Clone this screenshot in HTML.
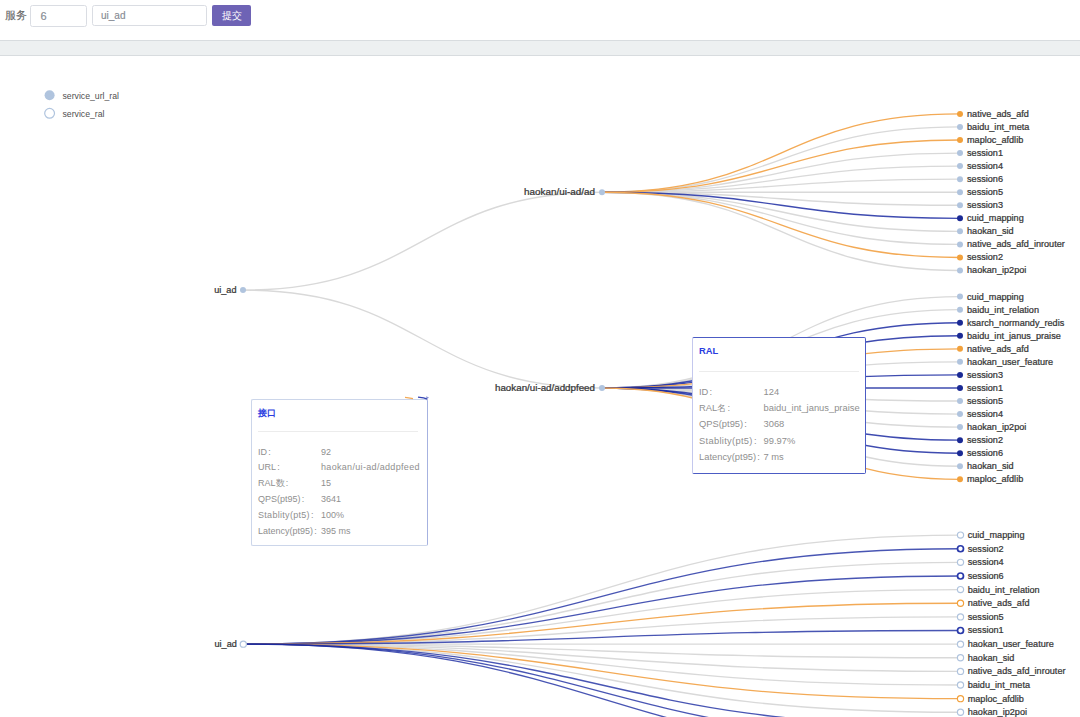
<!DOCTYPE html>
<html><head><meta charset="utf-8"><style>
*{margin:0;padding:0;box-sizing:border-box}
html,body{width:1080px;height:717px;overflow:hidden;background:#fff;font-family:"Liberation Sans",sans-serif}
.abs{position:absolute}
.lab{left:4.5px;top:9px;font-size:10.5px;color:#6a6a6a;line-height:12px;-webkit-text-stroke:0.15px #6a6a6a}
.inp{border:1px solid #dadde3;border-radius:2.5px;background:#fff;font-size:10px;color:#868b93;-webkit-text-stroke:0.15px #868b93;line-height:20px;height:22px}
.btn{left:212px;top:5px;width:39px;height:21px;background:#6e63b5;border-radius:2px;color:#fff;font-size:10px;line-height:21px;text-align:center}
.bar{left:0;top:40px;width:1080px;height:16px;background:#edf0f1;border-top:1px solid #d8dcdf;border-bottom:1px solid #d8dcdf}
svg.chart{position:absolute;left:0;top:0}
.lbl text{font-size:9px;fill:#383838;stroke:#383838;stroke-width:0.25px;font-family:"Liberation Sans",sans-serif}
.leg text{font-size:8.7px;fill:#505050;font-family:"Liberation Sans",sans-serif}
.tip{background:#fff;font-size:9px;color:#8f8f8f;border-radius:2px}
.tip .t{position:absolute;color:#2b3de0;font-weight:bold;font-size:9px}
.tip .sep{position:absolute;height:1px;background:#ececec}
.tip .c{margin-left:0.3px}
.tip .r{position:absolute;white-space:nowrap;line-height:10px;margin-top:0.1px}
.tipA .r{margin-top:0.9px}
.tipB,.tipB .t{font-size:9.35px}
.tipB .c,.tipA .c{margin-left:1.2px}
</style></head><body>
<div class="abs lab">服务</div>
<div class="abs inp" style="left:30px;top:5px;width:57px;padding-left:9.5px;font-size:11px">6</div>
<div class="abs inp" style="left:91.5px;top:5px;width:115.5px;height:21px;line-height:19.5px;padding-left:8.5px">ui_ad</div>
<div class="abs btn">提交</div>
<div class="abs bar"></div>
<svg class="chart" width="1080" height="717" viewBox="0 0 1080 717">
<g><path d="M243,290.08C422.5,290.08 422.5,192.2 602,192.2" stroke="#d9d9d9" stroke-width="1.35" fill="none"/><path d="M243,290.08C422.5,290.08 422.5,387.95 602,387.95" stroke="#d9d9d9" stroke-width="1.35" fill="none"/><path d="M602,192.2C781,192.2 781,126.95 960,126.95" stroke="#d9d9d9" stroke-width="1.35" fill="none"/><path d="M602,192.2C781,192.2 781,153.05 960,153.05" stroke="#d9d9d9" stroke-width="1.35" fill="none"/><path d="M602,192.2C781,192.2 781,166.1 960,166.1" stroke="#d9d9d9" stroke-width="1.35" fill="none"/><path d="M602,192.2C781,192.2 781,179.15 960,179.15" stroke="#d9d9d9" stroke-width="1.35" fill="none"/><path d="M602,192.2C781,192.2 781,192.2 960,192.2" stroke="#d9d9d9" stroke-width="1.35" fill="none"/><path d="M602,192.2C781,192.2 781,205.25 960,205.25" stroke="#d9d9d9" stroke-width="1.35" fill="none"/><path d="M602,192.2C781,192.2 781,231.35 960,231.35" stroke="#d9d9d9" stroke-width="1.35" fill="none"/><path d="M602,192.2C781,192.2 781,244.4 960,244.4" stroke="#d9d9d9" stroke-width="1.35" fill="none"/><path d="M602,192.2C781,192.2 781,270.5 960,270.5" stroke="#d9d9d9" stroke-width="1.35" fill="none"/><path d="M602,387.95C781,387.95 781,296.6 960,296.6" stroke="#d9d9d9" stroke-width="1.35" fill="none"/><path d="M602,387.95C781,387.95 781,309.65 960,309.65" stroke="#d9d9d9" stroke-width="1.35" fill="none"/><path d="M602,387.95C781,387.95 781,361.85 960,361.85" stroke="#d9d9d9" stroke-width="1.35" fill="none"/><path d="M602,387.95C781,387.95 781,401 960,401" stroke="#d9d9d9" stroke-width="1.35" fill="none"/><path d="M602,387.95C781,387.95 781,414.05 960,414.05" stroke="#d9d9d9" stroke-width="1.35" fill="none"/><path d="M602,387.95C781,387.95 781,427.1 960,427.1" stroke="#d9d9d9" stroke-width="1.35" fill="none"/><path d="M602,387.95C781,387.95 781,466.25 960,466.25" stroke="#d9d9d9" stroke-width="1.35" fill="none"/></g><g><path d="M602,192.2C781,192.2 781,113.9 960,113.9" stroke="#f3aa56" stroke-width="1.35" fill="none"/><path d="M602,192.2C781,192.2 781,140 960,140" stroke="#f3aa56" stroke-width="1.35" fill="none"/><path d="M602,192.2C781,192.2 781,218.3 960,218.3" stroke="#0e1e9c" stroke-width="1.35" fill="none" stroke-opacity="0.8"/><path d="M602,192.2C781,192.2 781,257.45 960,257.45" stroke="#f3aa56" stroke-width="1.35" fill="none"/><path d="M602,387.95C781,387.95 781,322.7 960,322.7" stroke="#0e1e9c" stroke-width="1.35" fill="none" stroke-opacity="0.8"/><path d="M602,387.95C781,387.95 781,335.75 960,335.75" stroke="#0e1e9c" stroke-width="1.35" fill="none" stroke-opacity="0.8"/><path d="M602,387.95C781,387.95 781,348.8 960,348.8" stroke="#f3aa56" stroke-width="1.35" fill="none"/><path d="M602,387.95C781,387.95 781,374.9 960,374.9" stroke="#0e1e9c" stroke-width="1.35" fill="none" stroke-opacity="0.8"/><path d="M602,387.95C781,387.95 781,387.95 960,387.95" stroke="#0e1e9c" stroke-width="1.35" fill="none" stroke-opacity="0.8"/><path d="M602,387.95C781,387.95 781,440.15 960,440.15" stroke="#0e1e9c" stroke-width="1.35" fill="none" stroke-opacity="0.8"/><path d="M602,387.95C781,387.95 781,453.2 960,453.2" stroke="#0e1e9c" stroke-width="1.35" fill="none" stroke-opacity="0.8"/><path d="M602,387.95C781,387.95 781,479.3 960,479.3" stroke="#f3aa56" stroke-width="1.35" fill="none"/></g>
<g><path d="M243.3,644.14C601.9,644.14 601.9,535.1 960.5,535.1" stroke="#d9d9d9" stroke-width="1.35" fill="none"/><path d="M243.3,644.14C601.9,644.14 601.9,562.36 960.5,562.36" stroke="#d9d9d9" stroke-width="1.35" fill="none"/><path d="M243.3,644.14C601.9,644.14 601.9,589.62 960.5,589.62" stroke="#d9d9d9" stroke-width="1.35" fill="none"/><path d="M243.3,644.14C601.9,644.14 601.9,616.88 960.5,616.88" stroke="#d9d9d9" stroke-width="1.35" fill="none"/><path d="M243.3,644.14C601.9,644.14 601.9,644.14 960.5,644.14" stroke="#d9d9d9" stroke-width="1.35" fill="none"/><path d="M243.3,644.14C601.9,644.14 601.9,657.77 960.5,657.77" stroke="#d9d9d9" stroke-width="1.35" fill="none"/><path d="M243.3,644.14C601.9,644.14 601.9,671.4 960.5,671.4" stroke="#d9d9d9" stroke-width="1.35" fill="none"/><path d="M243.3,644.14C601.9,644.14 601.9,685.03 960.5,685.03" stroke="#d9d9d9" stroke-width="1.35" fill="none"/><path d="M243.3,644.14C601.9,644.14 601.9,712.29 960.5,712.29" stroke="#d9d9d9" stroke-width="1.35" fill="none"/></g><g><path d="M243.3,644.14C601.9,644.14 601.9,548.73 960.5,548.73" stroke="#1a2aa0" stroke-width="1.35" fill="none" stroke-opacity="0.8"/><path d="M243.3,644.14C601.9,644.14 601.9,575.99 960.5,575.99" stroke="#1a2aa0" stroke-width="1.35" fill="none" stroke-opacity="0.8"/><path d="M243.3,644.14C601.9,644.14 601.9,603.25 960.5,603.25" stroke="#f3aa56" stroke-width="1.35" fill="none"/><path d="M243.3,644.14C601.9,644.14 601.9,630.51 960.5,630.51" stroke="#1a2aa0" stroke-width="1.35" fill="none" stroke-opacity="0.8"/><path d="M243.3,644.14C601.9,644.14 601.9,698.66 960.5,698.66" stroke="#f3aa56" stroke-width="1.35" fill="none"/><path d="M243.3,644.14C601.9,644.14 601.9,725.92 960.5,725.92" stroke="#1a2aa0" stroke-width="1.35" fill="none" stroke-opacity="0.8"/><path d="M243.3,644.14C601.9,644.14 601.9,739.55 960.5,739.55" stroke="#1a2aa0" stroke-width="1.35" fill="none" stroke-opacity="0.8"/><path d="M243.3,644.14C601.9,644.14 601.9,753.18 960.5,753.18" stroke="#1a2aa0" stroke-width="1.35" fill="none" stroke-opacity="0.8"/></g>
<g><circle cx="960" cy="113.90" r="3" fill="#f2a13c"/><circle cx="960" cy="126.95" r="3" fill="#b0c4de"/><circle cx="960" cy="140.00" r="3" fill="#f2a13c"/><circle cx="960" cy="153.05" r="3" fill="#b0c4de"/><circle cx="960" cy="166.10" r="3" fill="#b0c4de"/><circle cx="960" cy="179.15" r="3" fill="#b0c4de"/><circle cx="960" cy="192.20" r="3" fill="#b0c4de"/><circle cx="960" cy="205.25" r="3" fill="#b0c4de"/><circle cx="960" cy="218.30" r="3" fill="#1b2a94"/><circle cx="960" cy="231.35" r="3" fill="#b0c4de"/><circle cx="960" cy="244.40" r="3" fill="#b0c4de"/><circle cx="960" cy="257.45" r="3" fill="#f2a13c"/><circle cx="960" cy="270.50" r="3" fill="#b0c4de"/><circle cx="960" cy="296.60" r="3" fill="#b0c4de"/><circle cx="960" cy="309.65" r="3" fill="#b0c4de"/><circle cx="960" cy="322.70" r="3" fill="#1b2a94"/><circle cx="960" cy="335.75" r="3" fill="#1b2a94"/><circle cx="960" cy="348.80" r="3" fill="#f2a13c"/><circle cx="960" cy="361.85" r="3" fill="#b0c4de"/><circle cx="960" cy="374.90" r="3" fill="#1b2a94"/><circle cx="960" cy="387.95" r="3" fill="#1b2a94"/><circle cx="960" cy="401.00" r="3" fill="#b0c4de"/><circle cx="960" cy="414.05" r="3" fill="#b0c4de"/><circle cx="960" cy="427.10" r="3" fill="#b0c4de"/><circle cx="960" cy="440.15" r="3" fill="#1b2a94"/><circle cx="960" cy="453.20" r="3" fill="#1b2a94"/><circle cx="960" cy="466.25" r="3" fill="#b0c4de"/><circle cx="960" cy="479.30" r="3" fill="#f2a13c"/><circle cx="243" cy="290.08" r="3" fill="#b0c4de"/><circle cx="602" cy="192.20" r="3" fill="#b0c4de"/><circle cx="602" cy="387.95" r="3" fill="#b0c4de"/></g><g><circle cx="960.5" cy="535.10" r="3.1" fill="#fff" stroke="#b0c4de" stroke-width="1.2"/><circle cx="960.5" cy="548.73" r="3.0" fill="#fff" stroke="#2a3aaa" stroke-width="1.7"/><circle cx="960.5" cy="562.36" r="3.1" fill="#fff" stroke="#b0c4de" stroke-width="1.2"/><circle cx="960.5" cy="575.99" r="3.0" fill="#fff" stroke="#2a3aaa" stroke-width="1.7"/><circle cx="960.5" cy="589.62" r="3.1" fill="#fff" stroke="#b0c4de" stroke-width="1.2"/><circle cx="960.5" cy="603.25" r="3.1" fill="#fff" stroke="#f2a13c" stroke-width="1.2"/><circle cx="960.5" cy="616.88" r="3.1" fill="#fff" stroke="#b0c4de" stroke-width="1.2"/><circle cx="960.5" cy="630.51" r="3.0" fill="#fff" stroke="#2a3aaa" stroke-width="1.7"/><circle cx="960.5" cy="644.14" r="3.1" fill="#fff" stroke="#b0c4de" stroke-width="1.2"/><circle cx="960.5" cy="657.77" r="3.1" fill="#fff" stroke="#b0c4de" stroke-width="1.2"/><circle cx="960.5" cy="671.40" r="3.1" fill="#fff" stroke="#b0c4de" stroke-width="1.2"/><circle cx="960.5" cy="685.03" r="3.1" fill="#fff" stroke="#b0c4de" stroke-width="1.2"/><circle cx="960.5" cy="698.66" r="3.1" fill="#fff" stroke="#f2a13c" stroke-width="1.2"/><circle cx="960.5" cy="712.29" r="3.1" fill="#fff" stroke="#b0c4de" stroke-width="1.2"/><circle cx="960.5" cy="725.92" r="3.0" fill="#fff" stroke="#2a3aaa" stroke-width="1.7"/><circle cx="243.3" cy="644.14" r="3.1" fill="#fff" stroke="#b0c4de" stroke-width="1.2"/></g>
<g class="lbl"><text transform="translate(967,116.80) scale(1.015,0.95)">native_ads_afd</text><text transform="translate(967,129.85) scale(1.015,0.95)">baidu_int_meta</text><text transform="translate(967,142.90) scale(1.015,0.95)">maploc_afdlib</text><text transform="translate(967,155.95) scale(1.015,0.95)">session1</text><text transform="translate(967,169.00) scale(1.015,0.95)">session4</text><text transform="translate(967,182.05) scale(1.015,0.95)">session6</text><text transform="translate(967,195.10) scale(1.015,0.95)">session5</text><text transform="translate(967,208.15) scale(1.015,0.95)">session3</text><text transform="translate(967,221.20) scale(1.015,0.95)">cuid_mapping</text><text transform="translate(967,234.25) scale(1.015,0.95)">haokan_sid</text><text transform="translate(967,247.30) scale(1.015,0.95)">native_ads_afd_inrouter</text><text transform="translate(967,260.35) scale(1.015,0.95)">session2</text><text transform="translate(967,273.40) scale(1.015,0.95)">haokan_ip2poi</text><text transform="translate(967,299.50) scale(1.015,0.95)">cuid_mapping</text><text transform="translate(967,312.55) scale(1.015,0.95)">baidu_int_relation</text><text transform="translate(967,325.60) scale(1.015,0.95)">ksarch_normandy_redis</text><text transform="translate(967,338.65) scale(1.015,0.95)">baidu_int_janus_praise</text><text transform="translate(967,351.70) scale(1.015,0.95)">native_ads_afd</text><text transform="translate(967,364.75) scale(1.015,0.95)">haokan_user_feature</text><text transform="translate(967,377.80) scale(1.015,0.95)">session3</text><text transform="translate(967,390.85) scale(1.015,0.95)">session1</text><text transform="translate(967,403.90) scale(1.015,0.95)">session5</text><text transform="translate(967,416.95) scale(1.015,0.95)">session4</text><text transform="translate(967,430.00) scale(1.015,0.95)">haokan_ip2poi</text><text transform="translate(967,443.05) scale(1.015,0.95)">session2</text><text transform="translate(967,456.10) scale(1.015,0.95)">session6</text><text transform="translate(967,469.15) scale(1.015,0.95)">haokan_sid</text><text transform="translate(967,482.20) scale(1.015,0.95)">maploc_afdlib</text><text transform="translate(236.5,292.98) scale(1.015,0.95)" text-anchor="end">ui_ad</text><text transform="translate(595,195.10) scale(1,0.95)" text-anchor="end" textLength="71" lengthAdjust="spacingAndGlyphs">haokan/ui-ad/ad</text><text transform="translate(595,390.85) scale(1,0.95)" text-anchor="end" textLength="100" lengthAdjust="spacingAndGlyphs">haokan/ui-ad/addpfeed</text><text transform="translate(967.7,538.00) scale(1.015,0.95)">cuid_mapping</text><text transform="translate(967.7,551.63) scale(1.015,0.95)">session2</text><text transform="translate(967.7,565.26) scale(1.015,0.95)">session4</text><text transform="translate(967.7,578.89) scale(1.015,0.95)">session6</text><text transform="translate(967.7,592.52) scale(1.015,0.95)">baidu_int_relation</text><text transform="translate(967.7,606.15) scale(1.015,0.95)">native_ads_afd</text><text transform="translate(967.7,619.78) scale(1.015,0.95)">session5</text><text transform="translate(967.7,633.41) scale(1.015,0.95)">session1</text><text transform="translate(967.7,647.04) scale(1.015,0.95)">haokan_user_feature</text><text transform="translate(967.7,660.67) scale(1.015,0.95)">haokan_sid</text><text transform="translate(967.7,674.30) scale(1.015,0.95)">native_ads_afd_inrouter</text><text transform="translate(967.7,687.93) scale(1.015,0.95)">baidu_int_meta</text><text transform="translate(967.7,701.56) scale(1.015,0.95)">maploc_afdlib</text><text transform="translate(967.7,715.19) scale(1.015,0.95)">haokan_ip2poi</text><text transform="translate(967.7,728.82) scale(1.015,0.95)">x1</text><text transform="translate(236.8,647.04) scale(1.015,0.95)" text-anchor="end">ui_ad</text></g>
<circle cx="49.6" cy="95.2" r="5" fill="#b0c4de"/>
<circle cx="49.6" cy="113.3" r="4.9" fill="#fff" stroke="#b0c4de" stroke-width="1.2"/>
<g class="leg"><text x="62.5" y="98.5">service_url_ral</text><text x="62.5" y="116.6">service_ral</text></g>
</svg>
<div class="abs tip tipA" style="left:251px;top:399px;width:177px;height:147px;border:1px solid #ccd6ea;border-right-color:#a6b2e0">
 <div class="t" style="left:6px;top:7px">接口</div>
 <div class="sep" style="left:6px;top:31px;width:160px"></div>
 <div class="r" style="left:6px;top:46px">ID<span class="c">:</span></div><div class="r" style="left:69px;top:46px">92</div>
 <div class="r" style="left:6px;top:61px">URL<span class="c">:</span></div><div class="r" style="left:69px;top:61px;letter-spacing:0.32px">haokan/ui-ad/addpfeed</div>
 <div class="r" style="left:6px;top:77px">RAL数<span class="c">:</span></div><div class="r" style="left:69px;top:77px">15</div>
 <div class="r" style="left:6px;top:93px">QPS(pt95)<span class="c">:</span></div><div class="r" style="left:69px;top:93px">3641</div>
 <div class="r" style="left:6px;top:109px;letter-spacing:0.3px">Stablity(pt5)<span class="c">:</span></div><div class="r" style="left:69px;top:109px">100%</div>
 <div class="r" style="left:6px;top:125px">Latency(pt95)<span class="c">:</span></div><div class="r" style="left:69px;top:125px">395 ms</div>
</div>
<svg class="abs" style="left:400px;top:393px" width="32" height="12"><path d="M5,4.3 C8,4.6 10,5 13,5.6" stroke="#f3aa56" stroke-width="1.2" fill="none"/><path d="M18,4.2 C22,4.5 25,5 27.5,6.2" stroke="#3343b4" stroke-width="1.3" fill="none"/><path d="M26,4 L28.5,4.6" stroke="#5060c0" stroke-width="0.8"/></svg>
<div class="abs tip tipB" style="left:692px;top:337px;width:174px;height:137px;border:1px solid #4c5cc4;border-left-color:#c4c8ee">
 <div class="t" style="left:6px;top:7.5px">RAL</div>
 <div class="sep" style="left:6px;top:33px;width:160px"></div>
 <div class="r" style="left:6px;top:49px">ID<span class="c">:</span></div><div class="r" style="left:70.5px;top:49px">124</div>
 <div class="r" style="left:6px;top:65px">RAL名<span class="c">:</span></div><div class="r" style="left:70.5px;top:65px">baidu_int_janus_praise</div>
 <div class="r" style="left:6px;top:81px">QPS(pt95)<span class="c">:</span></div><div class="r" style="left:70.5px;top:81px">3068</div>
 <div class="r" style="left:6px;top:98px;letter-spacing:0.3px">Stablity(pt5)<span class="c">:</span></div><div class="r" style="left:70.5px;top:98px">99.97%</div>
 <div class="r" style="left:6px;top:114px">Latency(pt95)<span class="c">:</span></div><div class="r" style="left:70.5px;top:114px">7 ms</div>
</div>
</body></html>
